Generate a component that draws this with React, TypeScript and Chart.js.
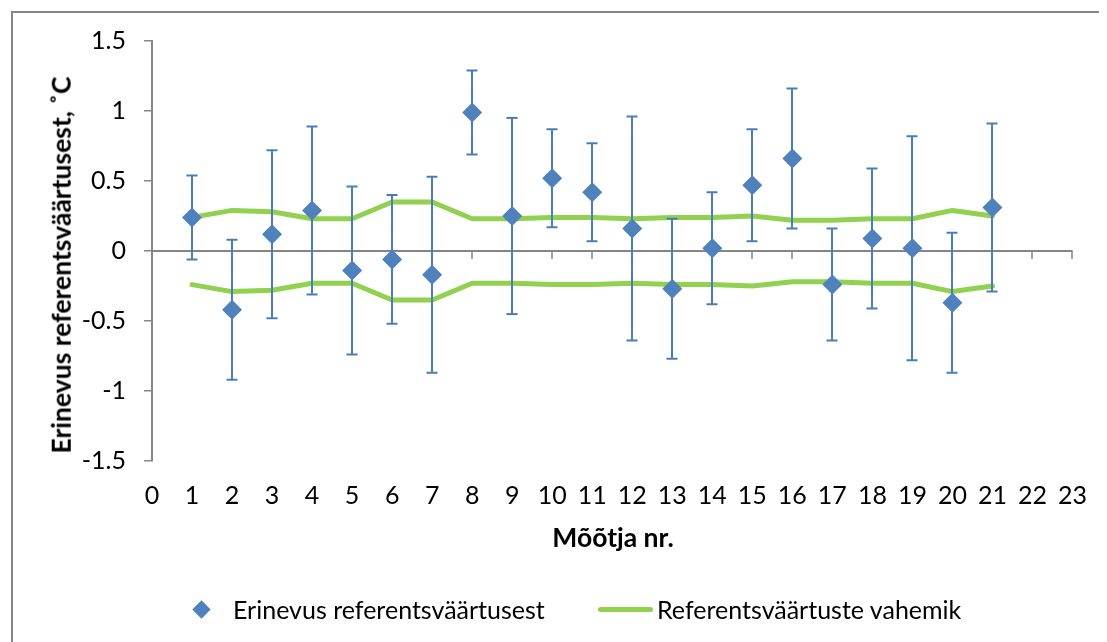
import { useEffect, useRef } from "react";
import { Chart, registerables } from "chart.js";

Chart.register(...registerables);

// Meter numbers and their deviation from the reference value, °C
const meterNumbers = [1, 2, 3, 4, 5, 6, 7, 8, 9, 10, 11, 12, 13, 14, 15, 16, 17, 18, 19, 20, 21];
const deviations = [0.24, -0.42, 0.12, 0.29, -0.14, -0.06, -0.17, 0.99, 0.25, 0.52, 0.42, 0.16, -0.27, 0.02, 0.47, 0.66, -0.24, 0.09, 0.02, -0.37, 0.31];
// Expanded uncertainty of each meter (symmetric error bar)
const uncertainties = [0.3, 0.5, 0.6, 0.6, 0.6, 0.46, 0.7, 0.3, 0.7, 0.35, 0.35, 0.8, 0.5, 0.4, 0.4, 0.5, 0.4, 0.5, 0.8, 0.5, 0.6];
// Allowed range around the reference value
const rangeUpper = [0.24, 0.29, 0.28, 0.23, 0.23, 0.35, 0.35, 0.23, 0.23, 0.24, 0.24, 0.23, 0.24, 0.24, 0.25, 0.22, 0.22, 0.23, 0.23, 0.29, 0.25];
const rangeLower = [-0.24, -0.29, -0.28, -0.23, -0.23, -0.35, -0.35, -0.23, -0.23, -0.24, -0.24, -0.23, -0.24, -0.24, -0.25, -0.22, -0.22, -0.23, -0.23, -0.29, -0.25];

const xTickValues = [0, 1, 2, 3, 4, 5, 6, 7, 8, 9, 10, 11, 12, 13, 14, 15, 16, 17, 18, 19, 20, 21, 22, 23];
const yTickValues = [-1.5, -1, -0.5, 0, 0.5, 1, 1.5];
const yTickLabels = ["-1.5", "-1", "-0.5", "0", "0.5", "1", "1.5"];

const seriesLabel = "Erinevus referentsväärtusest";
const rangeLabel = "Referentsväärtuste vahemik";
const yTitle = "Erinevus referentsväärtusest, ˚C";
const xTitle = "Mõõtja nr.";

const AXIS_GREY = "#868686";
const MARKER_BLUE = "#4f81bd";
const BAR_BLUE = "#4a7ebb";
const RANGE_GREEN = "#92d050";
const FONT = "Lato, 'Liberation Sans', sans-serif";
const FONT_SIZE = 25;
const TITLE_SIZE = 26.5;

const W = 1099;
const H = 634;

// Horizontal axis line crossing at y = 0, with its tick marks hanging down
const zeroAxis = {
  id: "zeroAxis",
  beforeDatasetsDraw(chart: any) {
    const { ctx, chartArea, scales } = chart;
    const y0 = Math.round(scales.y.getPixelForValue(0));
    ctx.save();
    ctx.strokeStyle = AXIS_GREY;
    ctx.lineWidth = 2;
    ctx.beginPath();
    ctx.moveTo(chartArea.left, y0);
    ctx.lineTo(chartArea.right, y0);
    ctx.stroke();
    ctx.lineWidth = 1.5;
    ctx.beginPath();
    xTickValues.forEach((v) => {
      const px = Math.round(scales.x.getPixelForValue(v));
      ctx.moveTo(px, y0);
      ctx.lineTo(px, y0 + 8);
    });
    ctx.stroke();
    ctx.restore();
  },
};

// Vertical error bars with caps, drawn just before the markers
const errorBars = {
  id: "errorBars",
  beforeDatasetDraw(chart: any, args: any) {
    if (args.index !== 0) return;
    const { ctx, scales } = chart;
    ctx.save();
    ctx.strokeStyle = BAR_BLUE;
    ctx.lineWidth = 2;
    ctx.beginPath();
    meterNumbers.forEach((m, i) => {
      const px = Math.round(scales.x.getPixelForValue(m));
      const top = scales.y.getPixelForValue(deviations[i] + uncertainties[i]);
      const bottom = scales.y.getPixelForValue(deviations[i] - uncertainties[i]);
      ctx.moveTo(px, top);
      ctx.lineTo(px, bottom);
      ctx.moveTo(px - 5.5, top);
      ctx.lineTo(px + 5.5, top);
      ctx.moveTo(px - 5.5, bottom);
      ctx.lineTo(px + 5.5, bottom);
    });
    ctx.stroke();
    ctx.restore();
  },
};

export default function App() {
  const canvasRef = useRef<HTMLCanvasElement | null>(null);

  useEffect(() => {
    const canvas = canvasRef.current;
    if (!canvas) return;
    const chart = new Chart(canvas, {
      type: "scatter",
      data: {
        datasets: [
          {
            label: seriesLabel,
            data: meterNumbers.map((m, i) => ({ x: m, y: deviations[i] })),
            pointStyle: "rectRot",
            pointRadius: 10,
            pointHoverRadius: 10,
            backgroundColor: MARKER_BLUE,
            borderColor: MARKER_BLUE,
            borderWidth: 0,
            showLine: false,
            order: 0,
          },
          {
            label: rangeLabel,
            data: meterNumbers.map((m, i) => ({ x: m, y: rangeUpper[i] })),
            showLine: true,
            borderColor: RANGE_GREEN,
            backgroundColor: RANGE_GREEN,
            borderWidth: 5,
            borderCapStyle: "round",
            borderJoinStyle: "round",
            pointRadius: 0,
            tension: 0,
            order: 1,
          },
          {
            label: rangeLabel,
            data: meterNumbers.map((m, i) => ({ x: m, y: rangeLower[i] })),
            showLine: true,
            borderColor: RANGE_GREEN,
            backgroundColor: RANGE_GREEN,
            borderWidth: 5,
            borderCapStyle: "round",
            borderJoinStyle: "round",
            pointRadius: 0,
            tension: 0,
            order: 1,
          },
        ],
      },
      options: {
        responsive: false,
        maintainAspectRatio: false,
        animation: false,
        devicePixelRatio: 1,
        layout: { padding: { left: 0, right: 32, top: 33, bottom: 121 } },
        plugins: {
          legend: { display: false },
          tooltip: { enabled: false },
        },
        scales: {
          x: {
            type: "linear",
            min: 0,
            max: 23,
            afterBuildTicks: (scale: any) => {
              scale.ticks = xTickValues.map((v) => ({ value: v }));
            },
            afterFit: (scale: any) => {
              scale.height = 60;
            },
            ticks: {
              color: "#000",
              font: { family: FONT, size: FONT_SIZE },
              padding: 20,
              maxRotation: 0,
              autoSkip: false,
              callback: (v: any) => String(v),
            },
            grid: { display: false, drawTicks: false },
            border: { display: false },
          },
          y: {
            type: "linear",
            min: -1.5,
            max: 1.5,
            afterBuildTicks: (scale: any) => {
              scale.ticks = yTickValues.map((v) => ({ value: v }));
            },
            afterFit: (scale: any) => {
              scale.width = 144;
            },
            ticks: {
              color: "#000",
              font: { family: FONT, size: FONT_SIZE },
              padding: 18,
              autoSkip: false,
              callback: (v: any) => {
                const i = yTickValues.indexOf(Number(v));
                return i >= 0 ? yTickLabels[i] : "";
              },
            },
            grid: {
              display: true,
              drawOnChartArea: false,
              drawTicks: true,
              tickLength: 8,
              color: AXIS_GREY,
              lineWidth: 1.5,
            },
            border: { display: true, color: AXIS_GREY, width: 2 },
          },
        },
      },
      plugins: [zeroAxis, errorBars],
    });
    return () => chart.destroy();
  }, []);

  const textStyle = {
    position: "absolute" as const,
    fontFamily: FONT,
    fontSize: FONT_SIZE,
    color: "#000",
    whiteSpace: "nowrap" as const,
    lineHeight: 1,
  };

  return (
    <div style={{ position: "relative", width: W, height: H, overflow: "hidden", background: "#fff" }}>
      {/* chart frame; its right and bottom edges lie outside the view */}
      <div
        style={{
          position: "absolute",
          left: 3,
          top: 3,
          width: 2000,
          height: 2000,
          borderLeft: `2px solid ${AXIS_GREY}`,
          borderTop: `2px solid ${AXIS_GREY}`,
        }}
      />
      <canvas ref={canvasRef} width={W} height={H} style={{ position: "absolute", left: 0, top: 0, width: W, height: H }} />
      <div
        style={{
          ...textStyle,
          fontSize: TITLE_SIZE,
          fontWeight: 700,
          left: 53,
          top: 257,
          transform: "translate(-50%, -50%) rotate(-90deg)",
        }}
      >
        {yTitle}
      </div>
      <div
        style={{
          ...textStyle,
          fontSize: TITLE_SIZE,
          fontWeight: 700,
          left: 605,
          top: 529,
          transform: "translate(-50%, -50%)",
        }}
      >
        {xTitle}
      </div>
      {/* legend */}
      <div
        style={{
          position: "absolute",
          left: 193.7 - 6.5,
          top: 601.5 - 6.5,
          width: 13,
          height: 13,
          background: MARKER_BLUE,
          transform: "rotate(45deg)",
        }}
      />
      <div style={{ ...textStyle, left: 225, top: 601, transform: "translateY(-50%)" }}>{seriesLabel}</div>
      <div
        style={{
          position: "absolute",
          left: 590,
          top: 598.5,
          width: 55,
          height: 5,
          borderRadius: 2.5,
          background: RANGE_GREEN,
        }}
      />
      <div style={{ ...textStyle, left: 649, top: 601, transform: "translateY(-50%)" }}>{rangeLabel}</div>
    </div>
  );
}
